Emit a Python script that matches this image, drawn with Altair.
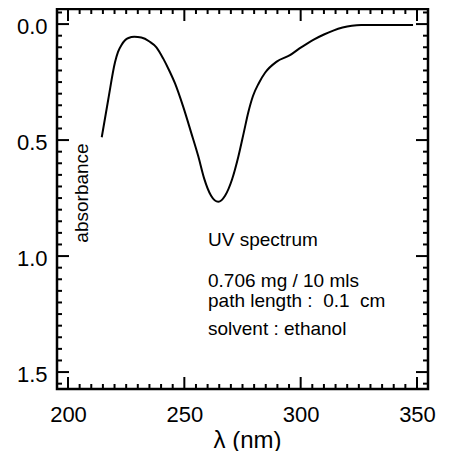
import altair as alt
import pandas as pd

# ---- data ----
wavelength = [214.5, 217.3, 220.2, 221.5, 223.0, 224.5, 226.0, 228.5, 231.5, 235.0,
              238.0, 241.0, 243.5, 246.0, 249.5, 253.0, 256.0, 258.5, 261.5, 264.6,
              267.5, 270.5, 273.2, 275.5, 277.5, 279.5, 282.0, 284.7, 289.7, 295.4,
              299.5, 302.6, 306.0, 310.0, 314.0, 318.0, 322.0, 326.0, 348.3]
absorbance = [0.488, 0.325, 0.165, 0.12, 0.09, 0.07, 0.06, 0.055, 0.058, 0.075,
              0.10, 0.15, 0.20, 0.256, 0.356, 0.47, 0.57, 0.665, 0.74, 0.766,
              0.74, 0.67, 0.572, 0.47, 0.38, 0.31, 0.255, 0.21, 0.162, 0.134,
              0.105, 0.085, 0.065, 0.045, 0.028, 0.015, 0.007, 0.004, 0.004]

x_major = [200, 250, 300, 350]
x_minor = [v for v in range(200, 355, 5) if v % 50 != 0]
y_major = [0.0, 0.5, 1.0, 1.5]
y_minor = [round(0.05 * i, 2) for i in range(-1, 32) if i % 10 != 0]

notes = ["UV spectrum", "0.706 mg / 10 mls",
         "path length :\u00a0 0.1\u00a0 cm", "solvent : ethanol"]
y_label = "absorbance"
x_title = "λ (nm)"

FONT = "Liberation Sans"
W, H = 371, 380
MAJ, MIN = 12, 5

xscale = alt.Scale(domain=[195.27, 354.73], nice=False, zero=False)
yscale = alt.Scale(domain=[-0.065, 1.573], reverse=True, nice=False, zero=False)

x_axis = alt.Axis(
    values=x_major, title=x_title, titleFont=FONT, titleFontSize=24,
    titleFontWeight="normal", titleColor="black", titleX=190, titleY=58,
    titleAlign="center", titleBaseline="alphabetic", titleAnchor="start",
    labelFont=FONT, labelFontSize=22, labelColor="black", labelPadding=15,
    labelFlush=False, ticks=False, tickSize=0, domain=False, grid=False, format="d")
y_axis = alt.Axis(
    values=y_major, title=None, format=".1f",
    labelFont=FONT, labelFontSize=22, labelColor="black", labelPadding=10,
    labelOffset=2, labelFlush=False, ticks=False, tickSize=0, domain=False, grid=False)

df = pd.DataFrame({"nm": wavelength, "A": absorbance})

curve = alt.Chart(df).mark_line(color="black", strokeWidth=2, interpolate="monotone").encode(
    x=alt.X("nm:Q", scale=xscale, axis=x_axis),
    y=alt.Y("A:Q", scale=yscale, axis=y_axis),
)


def xticks(vals, length):
    d = pd.DataFrame({"nm": vals})
    base = alt.Chart(d).mark_rule(color="black", strokeWidth=2)
    bottom = base.encode(x=alt.X("nm:Q", scale=xscale, axis=x_axis),
                         y=alt.value(H), y2=alt.value(H - length))
    top = base.encode(x=alt.X("nm:Q", scale=xscale, axis=x_axis),
                      y=alt.value(0), y2=alt.value(length))
    return [bottom, top]


def yticks(vals, length):
    d = pd.DataFrame({"A": vals})
    base = alt.Chart(d).mark_rule(color="black", strokeWidth=2)
    left = base.encode(y=alt.Y("A:Q", scale=yscale, axis=y_axis),
                       x=alt.value(0), x2=alt.value(length))
    right = base.encode(y=alt.Y("A:Q", scale=yscale, axis=y_axis),
                        x=alt.value(W), x2=alt.value(W - length))
    return [left, right]


tick_layers = xticks(x_major, MAJ) + xticks(x_minor, MIN) + yticks(y_major, MAJ) + yticks(y_minor, MIN)

dummy = pd.DataFrame({"k": [0]})
note_pos = [(151, 237), (151, 278), (151, 298), (151, 326)]
note_layers = []
for txt, (px, py) in zip(notes, note_pos):
    note_layers.append(
        alt.Chart(dummy).mark_text(font=FONT, fontSize=19, color="black",
                                   align="left", baseline="alphabetic").encode(
            x=alt.value(px), y=alt.value(py), text=alt.value(txt)))

ylab = alt.Chart(dummy).mark_text(font=FONT, fontSize=19, color="black", angle=270,
                                  align="center", baseline="alphabetic").encode(
    x=alt.value(31), y=alt.value(184), text=alt.value(y_label))

chart = alt.layer(curve, *tick_layers, *note_layers, ylab).properties(
    width=W, height=H,
    padding={"left": 49, "top": 1, "right": 8, "bottom": 62},
    autosize=alt.AutoSizeParams(type="none"),
    background="white",
).configure_view(stroke="black", strokeWidth=2.5)

chart.save("out.html", embed_options={"renderer": "svg", "actions": False})
